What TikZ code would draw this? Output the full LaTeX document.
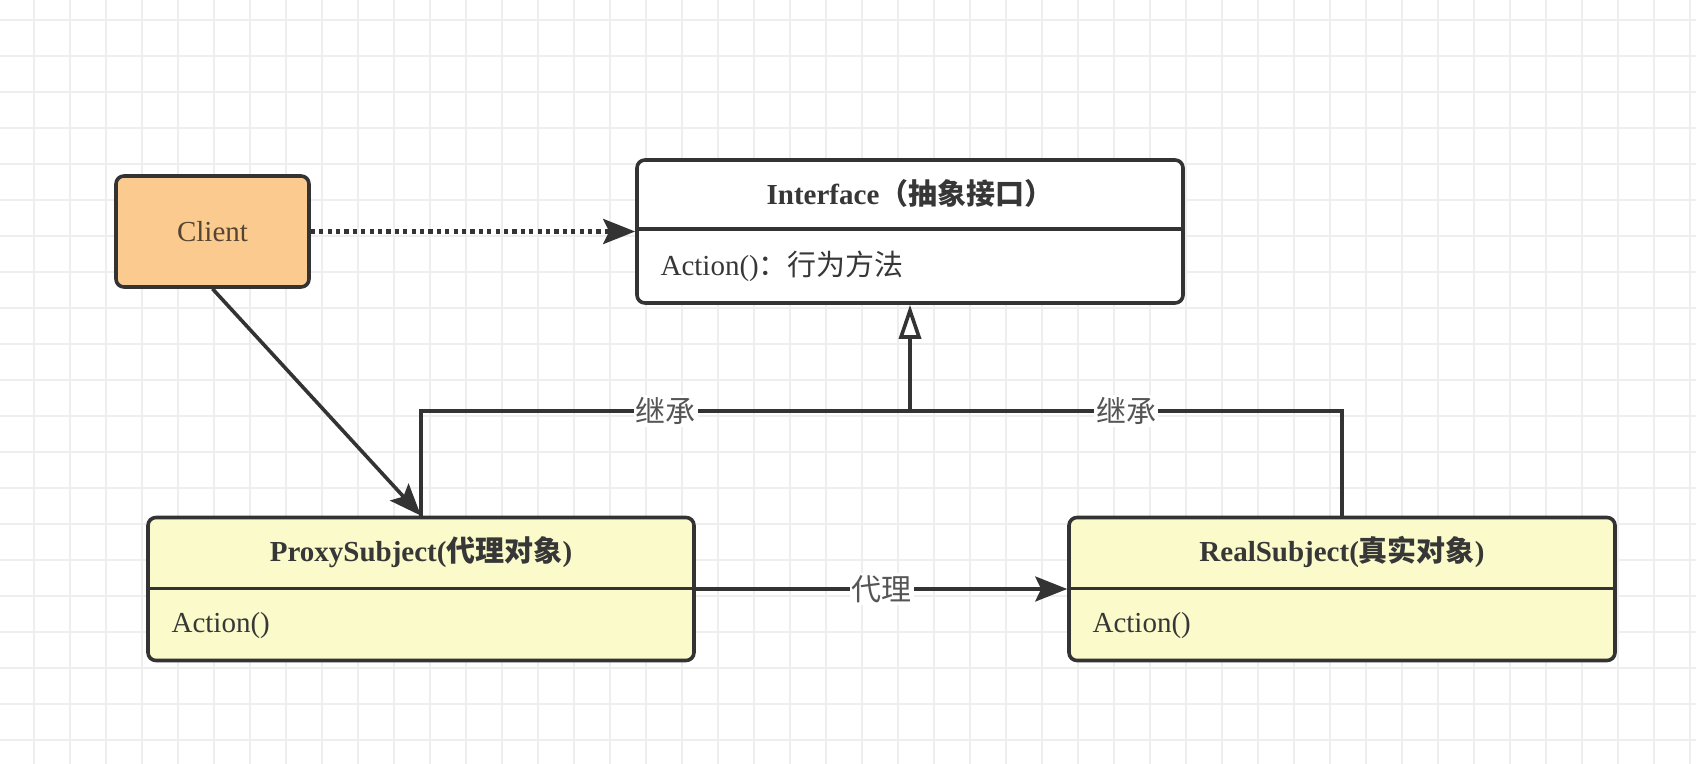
\documentclass[tikz,border=0pt]{standalone}
\usepackage{fontspec}
\setmainfont{Liberation Serif}
\newfontfamily\cjk{Noto Sans CJK SC}
\usetikzlibrary{arrows.meta}

\definecolor{linec}{RGB}{51,51,51}
\definecolor{gridc}{RGB}{238,238,238}
\definecolor{clientfill}{RGB}{250,202,142}
\definecolor{classfill}{RGB}{250,250,202}
\definecolor{textc}{RGB}{55,55,55}
\definecolor{clienttext}{RGB}{85,68,50}
\definecolor{labelc}{RGB}{85,85,85}

\tikzset{
  gridline/.style={draw=gridc, line width=0.8pt},
  classbox/.style={draw=linec, line width=1.8pt, rounded corners=4pt, inner sep=0pt,
    minimum width=273pt, minimum height=71.5pt},
  titlepart/.style={font=\fontsize{14.5}{17}\selectfont\bfseries, text=textc,
    minimum height=36pt, inner sep=0pt, anchor=north},
  bodypart/.style={font=\fontsize{14.5}{17}\selectfont, text=textc, inner sep=0pt, anchor=west},
  divider/.style={draw=linec, line width=1.8pt},
  link/.style={draw=linec, line width=1.8pt},
  arr/.style={-{Stealth[length=16pt, width=12.5pt, inset=3pt]}},
  inherit/.style={-{Triangle[open, fill=white, length=17pt, width=11pt]}},
  linklabel/.style={font=\fontsize{15}{17}\selectfont\cjk, text=labelc, fill=white, inner sep=1pt},
}

\begin{document}
\begin{tikzpicture}[x=0.5pt,y=-0.5pt]
\useasboundingbox[fill=white] (0,0) rectangle (1696,764);
\foreach \gx in {34,70,...,1696} \draw[gridline] (\gx,0) -- (\gx,764);
\foreach \gy in {20,56,...,764} \draw[gridline] (0,\gy) -- (1696,\gy);

% client
\node[classbox, fill=clientfill, minimum width=96.5pt, minimum height=55.5pt,
  font=\fontsize{14.5}{17}\selectfont, text=clienttext] (client) at (212.5,231.5) {Client};

% interface
\node[classbox, fill=white] (iface) at (910,231.5) {};
\node[titlepart, minimum height=35pt] (ifaceTitle) at (iface.north) {Interface{\cjk （抽象接口）}};
\draw[divider] (iface.west |- ifaceTitle.south) -- (iface.east |- ifaceTitle.south);
\node[bodypart] (ifaceBody) at ([xshift=12.5pt]iface.west |- 0,266.5) {Action(){\cjk ：行为方法}};

% proxy
\node[classbox, fill=classfill] (proxy) at (421,589) {};
\node[titlepart] (proxyTitle) at (proxy.north) {ProxySubject({\cjk 代理对象})};
\draw[divider] (proxy.west |- proxyTitle.south) -- (proxy.east |- proxyTitle.south);
\node[bodypart] (proxyBody) at ([xshift=12.5pt]proxy.west |- 0,625.5) {Action()};

% real
\node[classbox, fill=classfill] (real) at (1342,589) {};
\node[titlepart] (realTitle) at (real.north) {RealSubject({\cjk 真实对象})};
\draw[divider] (real.west |- realTitle.south) -- (real.east |- realTitle.south);
\node[bodypart] (realBody) at ([xshift=12.5pt]real.west |- 0,625.5) {Action()};

% connectors
\coordinate (join) at (iface.south |- 0,411);
\draw[link, arr, line width=2.1pt, dash pattern=on 2.1pt off 2.1pt] (client.east) -- (iface.west);
\draw[link, arr] (client.south) -- (proxy.north);
\draw[link] (proxy.north) |- node[linklabel, pos=0.75] {继承} (join)
  -| node[linklabel, pos=0.25] {继承} (real.north);
\draw[link, inherit] (join) -- (iface.south);
\draw[link, arr] (proxy.east) -- node[linklabel] {代理} (real.west);
\end{tikzpicture}
\end{document}
